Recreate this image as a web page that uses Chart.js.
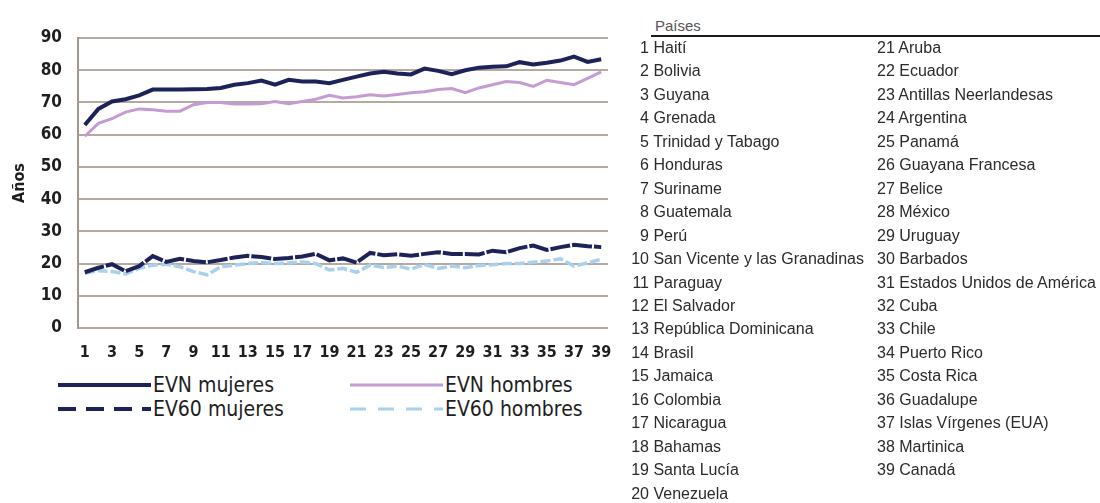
<!DOCTYPE html>
<html><head><meta charset="utf-8">
<script src="https://cdn.jsdelivr.net/npm/chart.js@4.4.1/dist/chart.umd.min.js"></script>
<style>
html,body{margin:0;padding:0;background:#fff;}
body{width:1100px;height:503px;position:relative;overflow:hidden;font-family:'Liberation Sans',Arial,sans-serif;}
#chartBox{position:absolute;left:0;top:0;width:640px;height:370px;}
.narrow{font-family:'Liberation Sans Narrow','Arial Narrow','DejaVu Sans Condensed','Liberation Sans',Arial,sans-serif;}
.leg{position:absolute;font-size:21px;color:#1e1e1e;line-height:24px;white-space:nowrap;}
#legSvg{position:absolute;left:0;top:370px;}
#paises{position:absolute;left:655px;top:17px;font-size:15px;color:#555;line-height:18px;}
#rule{position:absolute;left:651px;top:35px;width:449px;height:2px;background:#1a1a1a;}
.row{position:absolute;font-size:16px;color:#2b2b2b;line-height:18px;white-space:nowrap;}
.num{display:inline-block;text-align:right;}
</style></head>
<body>
<div id="chartBox"><canvas id="c" width="640" height="370"></canvas></div>
<svg id="legSvg" width="640" height="70"></svg>
<div id="legText"></div>
<div id="paises">Países</div>
<div id="rule"></div>
<div id="list"></div>
<script>
const categories = ['1','2','3','4','5','6','7','8','9','10','11','12','13','14','15','16','17','18','19','20','21','22','23','24','25','26','27','28','29','30','31','32','33','34','35','36','37','38','39'];
const xTickLabels = ['1','3','5','7','9','11','13','15','17','19','21','23','25','27','29','31','33','35','37','39'];
const yTicks = [0,10,20,30,40,50,60,70,80,90];

const evnMujeres = [63,68,70.3,71,72.2,74,74,74,74.1,74.2,74.5,75.5,76,76.8,75.5,77,76.5,76.5,76,77,78,79,79.5,79,78.7,80.5,79.8,78.8,80,80.8,81.1,81.2,82.5,81.8,82.3,83,84.2,82.6,83.4];
const evnHombres = [59.5,63.5,65,67,68,67.7,67.3,67.3,69.3,70,70,69.5,69.5,69.6,70.3,69.6,70.3,71,72.2,71.4,71.8,72.4,72,72.5,73,73.3,74,74.3,73,74.5,75.5,76.5,76.2,75,76.9,76.2,75.5,77.5,79.5];
const ev60Mujeres = [17.3,18.7,19.8,17.6,19.2,22.3,20.5,21.5,20.8,20.4,21.1,21.9,22.4,22,21.4,21.7,22.2,23,21,21.6,20.3,23.3,22.6,22.9,22.4,23,23.5,23,23,22.8,24,23.5,24.8,25.6,24.2,25.1,25.8,25.4,25.1];
const ev60Hombres = [17,17.8,17.5,16.8,18.5,19.5,19.8,19,17.5,16.5,19,19.5,20,20.3,20,20.2,20.5,20,18,18.5,17.3,19.5,18.8,19.2,18.3,19.7,18.5,19.2,18.7,19.4,19.6,20,20,20.4,20.8,21.5,19.2,20.2,21.3];

const seriesNames = ['EVN mujeres','EVN hombres','EV60 mujeres','EV60 hombres'];
const countries = ['Haití','Bolivia','Guyana','Grenada','Trinidad y Tabago','Honduras','Suriname','Guatemala','Perú','San Vicente y las Granadinas','Paraguay','El Salvador','República Dominicana','Brasil','Jamaica','Colombia','Nicaragua','Bahamas','Santa Lucía','Venezuela','Aruba','Ecuador','Antillas Neerlandesas','Argentina','Panamá','Guayana Francesa','Belice','México','Uruguay','Barbados','Estados Unidos de América','Cuba','Chile','Puerto Rico','Costa Rica','Guadalupe','Islas Vírgenes (EUA)','Martinica','Canadá'];

const FONT_N = "'Liberation Sans Narrow','Arial Narrow','DejaVu Sans Condensed','Liberation Sans',Arial,sans-serif";
const C_DARK = '#1d2358', C_PINK = '#c69bd2', C_LBLUE = '#a8d1ee';

new Chart(document.getElementById('c'), {
  type: 'line',
  data: {
    labels: categories,
    datasets: [
      {label: seriesNames[0], data: evnMujeres, borderColor: C_DARK, borderWidth: 4, pointRadius: 0, tension: 0, fill: false},
      {label: seriesNames[1], data: evnHombres, borderColor: C_PINK, borderWidth: 3, pointRadius: 0, tension: 0, fill: false},
      {label: seriesNames[2], data: ev60Mujeres, borderColor: C_DARK, borderWidth: 4, borderDash: [20, 2], pointRadius: 0, tension: 0, fill: false},
      {label: seriesNames[3], data: ev60Hombres, borderColor: C_LBLUE, borderWidth: 3.5, borderDash: [10, 3], pointRadius: 0, tension: 0, fill: false}
    ]
  },
  options: {
    responsive: false, animation: false,
    layout: {padding: {top: 38, right: 32, left: 0, bottom: 0}},
    plugins: {legend: {display: false}, tooltip: {enabled: false}},
    scales: {
      x: {
        type: 'category', offset: true,
        grid: {display: false, drawTicks: false},
        border: {display: false},
        ticks: {
          autoSkip: false, maxRotation: 0, minRotation: 0, padding: 15, color: '#1e1e1e',
          font: {family: FONT_N, size: 16, weight: 'bold'},
          callback: function(v) { const l = this.getLabelForValue(v); return xTickLabels.includes(l) ? l : ''; }
        },
        afterFit: s => { s.height = 42; }
      },
      y: {
        min: 0, max: 90,
        afterBuildTicks: s => { s.ticks = yTicks.map(v => ({value: v})); },
        ticks: {padding: 16, color: '#1e1e1e', font: {family: FONT_N, size: 17, weight: 'bold'}},
        grid: {color: '#b3aaa1', lineWidth: 2, drawTicks: false},
        border: {display: true, color: '#a1978f', width: 2},
        title: {display: true, text: 'Años', color: '#1e1e1e', padding: {top: 10, bottom: 0}, font: {family: FONT_N, size: 16, weight: 'bold'}},
        afterFit: s => { s.width = 78; }
      }
    }
  }
});

// Legend (HTML text, SVG samples)
const legSvg = document.getElementById('legSvg');
const legText = document.getElementById('legText');
const legItems = [
  {name: seriesNames[0], color: C_DARK, w: 4, dash: '', x: 58, y: 15},
  {name: seriesNames[1], color: C_PINK, w: 3, dash: '', x: 350, y: 15},
  {name: seriesNames[2], color: C_DARK, w: 4, dash: '18 10', x: 58, y: 39},
  {name: seriesNames[3], color: C_LBLUE, w: 3, dash: '16 12', x: 350, y: 39}
];
legItems.forEach(it => {
  const ln = document.createElementNS('http://www.w3.org/2000/svg', 'line');
  ln.setAttribute('x1', it.x); ln.setAttribute('x2', it.x + 93);
  ln.setAttribute('y1', it.y); ln.setAttribute('y2', it.y);
  ln.setAttribute('stroke', it.color); ln.setAttribute('stroke-width', it.w);
  if (it.dash) ln.setAttribute('stroke-dasharray', it.dash);
  legSvg.appendChild(ln);
  const d = document.createElement('div');
  d.className = 'leg narrow';
  d.style.left = (it.x + 95) + 'px';
  d.style.top = (370 + it.y - 12) + 'px';
  d.textContent = it.name;
  legText.appendChild(d);
});

// Country list
const list = document.getElementById('list');
countries.forEach((name, i) => {
  const col = i < 20 ? 0 : 1;
  const r = col === 0 ? i : i - 20;
  const d = document.createElement('div');
  d.className = 'row';
  d.style.top = (48 + r * 23.45 - 9) + 'px';
  if (col === 0) {
    d.style.left = '622px';
    d.innerHTML = '<span class="num" style="width:27px">' + (i + 1) + '</span> ' + name;
  } else {
    d.style.left = '877px';
    d.textContent = (i + 1) + ' ' + name;
  }
  list.appendChild(d);
});
</script>
</body></html>
